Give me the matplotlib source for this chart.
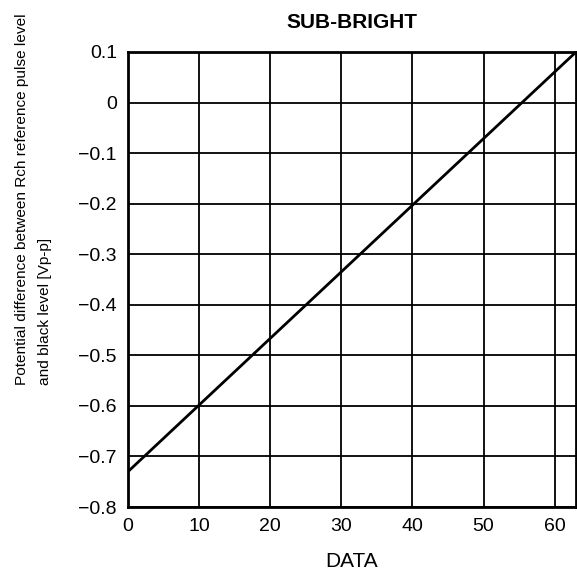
import numpy as np
import matplotlib.pyplot as plt

plt.rcParams['font.family'] = ['Liberation Sans', 'DejaVu Sans']

# line end points
data = [0, 63]
volts = [-0.73, 0.10]

xticks = [0, 10, 20, 30, 40, 50, 60]
yticks = [0.1, 0, -0.1, -0.2, -0.3, -0.4, -0.5, -0.6, -0.7, -0.8]
ylabels = ['0.1', '0', '\u22120.1', '\u22120.2', '\u22120.3', '\u22120.4',
           '\u22120.5', '\u22120.6', '\u22120.7', '\u22120.8']

fig = plt.figure(figsize=(5.77, 5.73), dpi=100)
ax = fig.add_axes([128 / 577, 66 / 573, 448 / 577, 455 / 573])

ax.plot(data, volts, color='black', lw=2)

ax.set_xlim(0, 63)
ax.set_ylim(-0.8, 0.1)
ax.set_xticks(xticks)
ax.set_yticks(yticks)
ax.set_yticklabels(ylabels)
ax.tick_params(length=0, labelsize=14, pad=8)
ax.grid(True, color='black', lw=1.3)
for s in ax.spines.values():
    s.set_linewidth(2)

ax.set_title('SUB-BRIGHT', fontsize=15, fontweight='bold', pad=17)
ax.set_xlabel('DATA', fontsize=15, labelpad=12)

fig.text(0.058, 1 - 385 / 573,
         'Potential difference between Rch reference pulse level\nand black level [Vp-p]',
         rotation=90, fontsize=11.1, ha='center', va='bottom',
         multialignment='left', linespacing=1.85)

fig.savefig('out.png', dpi=100)
